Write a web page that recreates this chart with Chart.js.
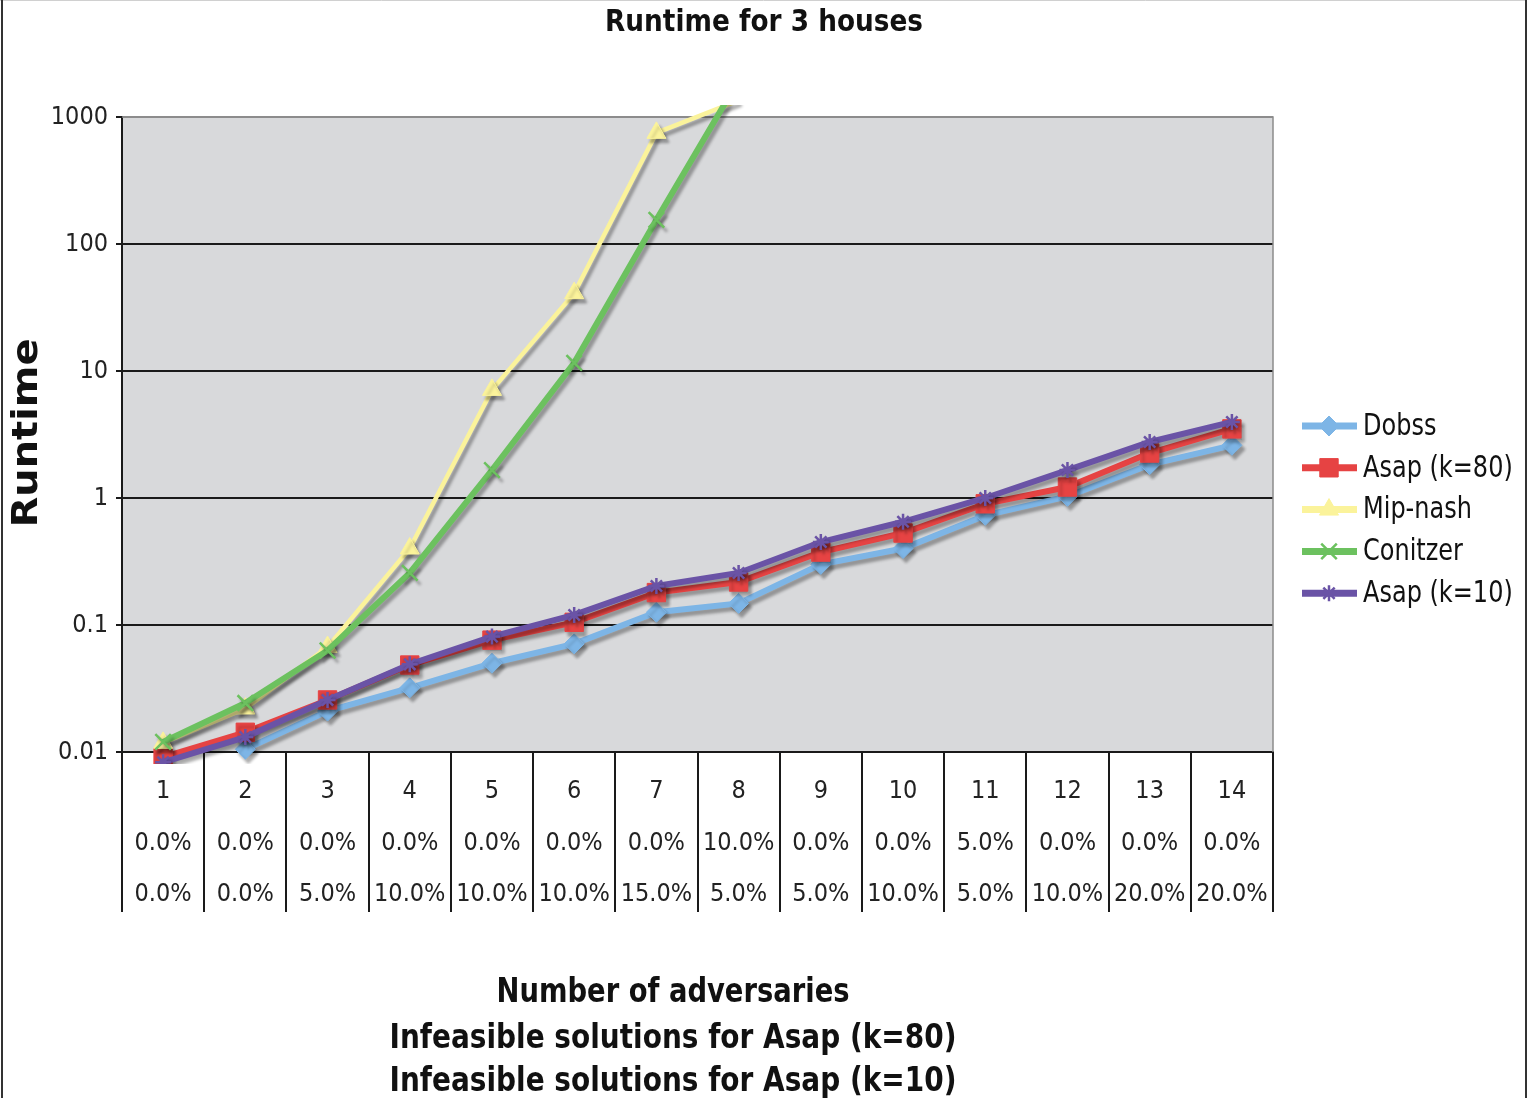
<!DOCTYPE html>
<html>
<head>
<meta charset="utf-8">
<title>Runtime for 3 houses</title>
<script src="https://cdn.jsdelivr.net/npm/chart.js@4.4.1/dist/chart.umd.min.js"></script>
<style>
  body { margin: 0; background: #fff; }
  canvas { display: block; }
</style>
</head>
<body>
<canvas id="chartRuntime" width="1527" height="1098"></canvas>
<script>
// number of adversaries and % of infeasible solutions for each Asap run
const adversaries = [1, 2, 3, 4, 5, 6, 7, 8, 9, 10, 11, 12, 13, 14]
const infeasibleK80 = [0, 0, 0, 0, 0, 0, 0, 10, 0, 0, 5, 0, 0, 0]
const infeasibleK10 = [0, 0, 5, 10, 10, 10, 15, 5, 5, 10, 5, 10, 20, 20]

// runtimes (log scale), null = nothing plotted
const dobss = [null, 0.0105, 0.021, 0.032, 0.05, 0.071, 0.126, 0.148, 0.3, 0.4, 0.73, 1.03, 1.83, 2.6]
const asapK80 = [0.0091, 0.0143, 0.0257, 0.0484, 0.076, 0.105, 0.18, 0.218, 0.375, 0.53, 0.9, 1.22, 2.26, 3.5]
const mipNash = [0.0118, 0.022, 0.067, 0.4, 7.1, 41, 750, 1350, null, null, null, null, null, null]
const conitzer = [0.012, 0.0243, 0.063, 0.257, 1.66, 11.6, 155, 1950, null, null, null, null, null, null]
const asapK10 = [0.0083, 0.0131, 0.0257, 0.049, 0.081, 0.12, 0.203, 0.257, 0.45, 0.65, 1.0, 1.66, 2.76, 3.97]

const yTicks = [0.01, 0.1, 1, 10, 100, 1000]

const FONT = "'DejaVu Sans Condensed', 'DejaVu Sans', sans-serif"
const FONT_BOLD = "'DejaVu Sans', sans-serif"
const INK = "#1a1a1a"

function pct(v) {
  return v.toFixed(1) + "%"
}

function serie(label, data, color, style, radius, order, extra) {
  return Object.assign({
    label,
    data,
    order,
    borderColor: color,
    backgroundColor: color,
    borderWidth: 6,
    pointStyle: style,
    pointRadius: radius,
    pointHoverRadius: radius,
    pointBackgroundColor: color,
    pointBorderColor: color,
    pointBorderWidth: 1,
    tension: 0,
    spanGaps: false,
    clip: { left: 4, top: 12, right: 4, bottom: 12 }
  }, extra || {})
}

// text squeezed/stretched horizontally to a given width
function fitText(ctx, text, x, y, width, font, angle) {
  ctx.save()
  ctx.font = font
  ctx.textAlign = "center"
  ctx.textBaseline = "middle"
  ctx.fillStyle = "#111"
  const w = ctx.measureText(text).width
  ctx.translate(x, y)
  if (angle) ctx.rotate(angle)
  ctx.scale(width / w, 1)
  ctx.fillText(text, 0, 0)
  ctx.restore()
}

const plotFrame = {
  id: "plotFrame",
  beforeDraw(chart) {
    const { ctx, chartArea: a } = chart
    ctx.save()
    ctx.fillStyle = "#fff"
    ctx.fillRect(0, 0, chart.width, chart.height)
    ctx.fillStyle = "#d8d9db"
    ctx.fillRect(a.left, a.top, a.right - a.left, a.bottom - a.top)
    ctx.restore()
  },
  beforeDatasetsDraw(chart) {
    const { ctx, chartArea: a } = chart
    ctx.save()
    ctx.strokeStyle = "#8c8c8c"
    ctx.lineWidth = 1.5
    ctx.beginPath()
    ctx.moveTo(a.left, a.top)
    ctx.lineTo(a.right, a.top)
    ctx.lineTo(a.right, a.bottom)
    ctx.stroke()
    ctx.restore()

    // drop shadow under lines and markers
    ctx.save()
    ctx.shadowColor = "rgba(0, 0, 0, 0.32)"
    ctx.shadowOffsetX = 3
    ctx.shadowOffsetY = 4
    ctx.shadowBlur = 3
  },
  afterDatasetsDraw(chart) {
    chart.ctx.restore()
  },
  afterDraw(chart) {
    const ctx = chart.ctx

    fitText(ctx, "Runtime for 3 houses", 764, 23, 318, "bold 31px " + FONT_BOLD)
    fitText(ctx, "Runtime", 28, 433, 189, "bold 36px " + FONT_BOLD, -Math.PI / 2)
    fitText(ctx, "Number of adversaries", 673, 993, 353, "bold 34px " + FONT_BOLD)
    fitText(ctx, "Infeasible solutions for Asap (k=80)", 673, 1039, 567, "bold 34px " + FONT_BOLD)
    fitText(ctx, "Infeasible solutions for Asap (k=10)", 673, 1082, 567, "bold 34px " + FONT_BOLD)

    // legend: line sample + marker + name
    chart.data.datasets.forEach((ds, i) => {
      const y = 426 + i * 41.8
      ctx.save()
      ctx.strokeStyle = ds.borderColor
      ctx.lineWidth = 7
      ctx.beginPath()
      ctx.moveTo(1302, y)
      ctx.lineTo(1357, y)
      ctx.stroke()
      ctx.fillStyle = ds.pointBackgroundColor
      ctx.strokeStyle = ds.pointBorderColor
      ctx.lineWidth = ds.pointBorderWidth
      Chart.helpers.drawPoint(ctx, {
        pointStyle: ds.pointStyle,
        radius: ds.pointRadius,
        borderWidth: ds.pointBorderWidth,
        rotation: 0
      }, 1329, y)
      ctx.font = "30px 'DejaVu Sans', sans-serif"
      ctx.fillStyle = "#111"
      ctx.textBaseline = "middle"
      ctx.translate(1363, y)
      ctx.scale(0.8, 1)
      ctx.fillText(ds.label, 0, 1)
      ctx.restore()
    })

    // outer frame
    ctx.save()
    ctx.strokeStyle = "#d0d0d0"
    ctx.lineWidth = 1
    ctx.beginPath()
    ctx.moveTo(0, 0.5)
    ctx.lineTo(chart.width, 0.5)
    ctx.stroke()
    ctx.strokeStyle = "#333"
    ctx.lineWidth = 2
    ctx.beginPath()
    ctx.moveTo(2, 0)
    ctx.lineTo(2, chart.height)
    ctx.moveTo(1526, 0)
    ctx.lineTo(1526, chart.height)
    ctx.stroke()
    ctx.restore()
  }
}

const labels = adversaries.map((n, i) => [String(n), pct(infeasibleK80[i]), pct(infeasibleK10[i])])

new Chart(document.getElementById("chartRuntime"), {
  type: "line",
  data: {
    labels,
    datasets: [
      serie("Dobss", dobss, "#7db5e6", "rectRot", 10, 5),
      serie("Asap (k=80)", asapK80, "#e64343", "rect", 13, 4),
      serie("Mip-nash", mipNash, "#fbf39b", "triangle", 11, 3, { borderWidth: 4.5 }),
      serie("Conitzer", conitzer, "#6cc15f", "crossRot", 11, 2, { pointBorderWidth: 2.5 }),
      serie("Asap (k=10)", asapK10, "#6a53a6", "star", 8, 1, { pointBorderWidth: 2.5 })
    ]
  },
  options: {
    responsive: false,
    animation: false,
    events: [],
    layout: {
      padding: { top: 117, right: 254, bottom: 0, left: 0 }
    },
    plugins: {
      legend: { display: false },
      title: { display: false },
      tooltip: { enabled: false }
    },
    scales: {
      x: {
        type: "category",
        offset: true,
        afterFit: s => { s.height = 346 },
        grid: {
          offset: true,
          drawOnChartArea: false,
          tickLength: 160,
          color: INK,
          lineWidth: 2
        },
        border: { color: INK, width: 2 },
        ticks: {
          font: { family: FONT, size: 25, lineHeight: 2.06 },
          color: "#222",
          padding: -146,
          maxRotation: 0,
          autoSkip: false
        }
      },
      y: {
        type: "logarithmic",
        min: 0.01,
        max: 1000,
        afterBuildTicks: s => { s.ticks = yTicks.map(v => ({ value: v })) },
        afterFit: s => { s.width = 122 },
        grid: {
          color: c => (c.tick && c.tick.value === 1000 ? "#8c8c8c" : INK),
          lineWidth: 2,
          tickLength: 6,
          tickColor: INK
        },
        border: { color: INK, width: 2 },
        ticks: {
          font: { family: FONT, size: 25 },
          color: "#222",
          padding: 8,
          callback: v => String(v)
        }
      }
    }
  },
  plugins: [plotFrame]
})
</script>
</body>
</html>
